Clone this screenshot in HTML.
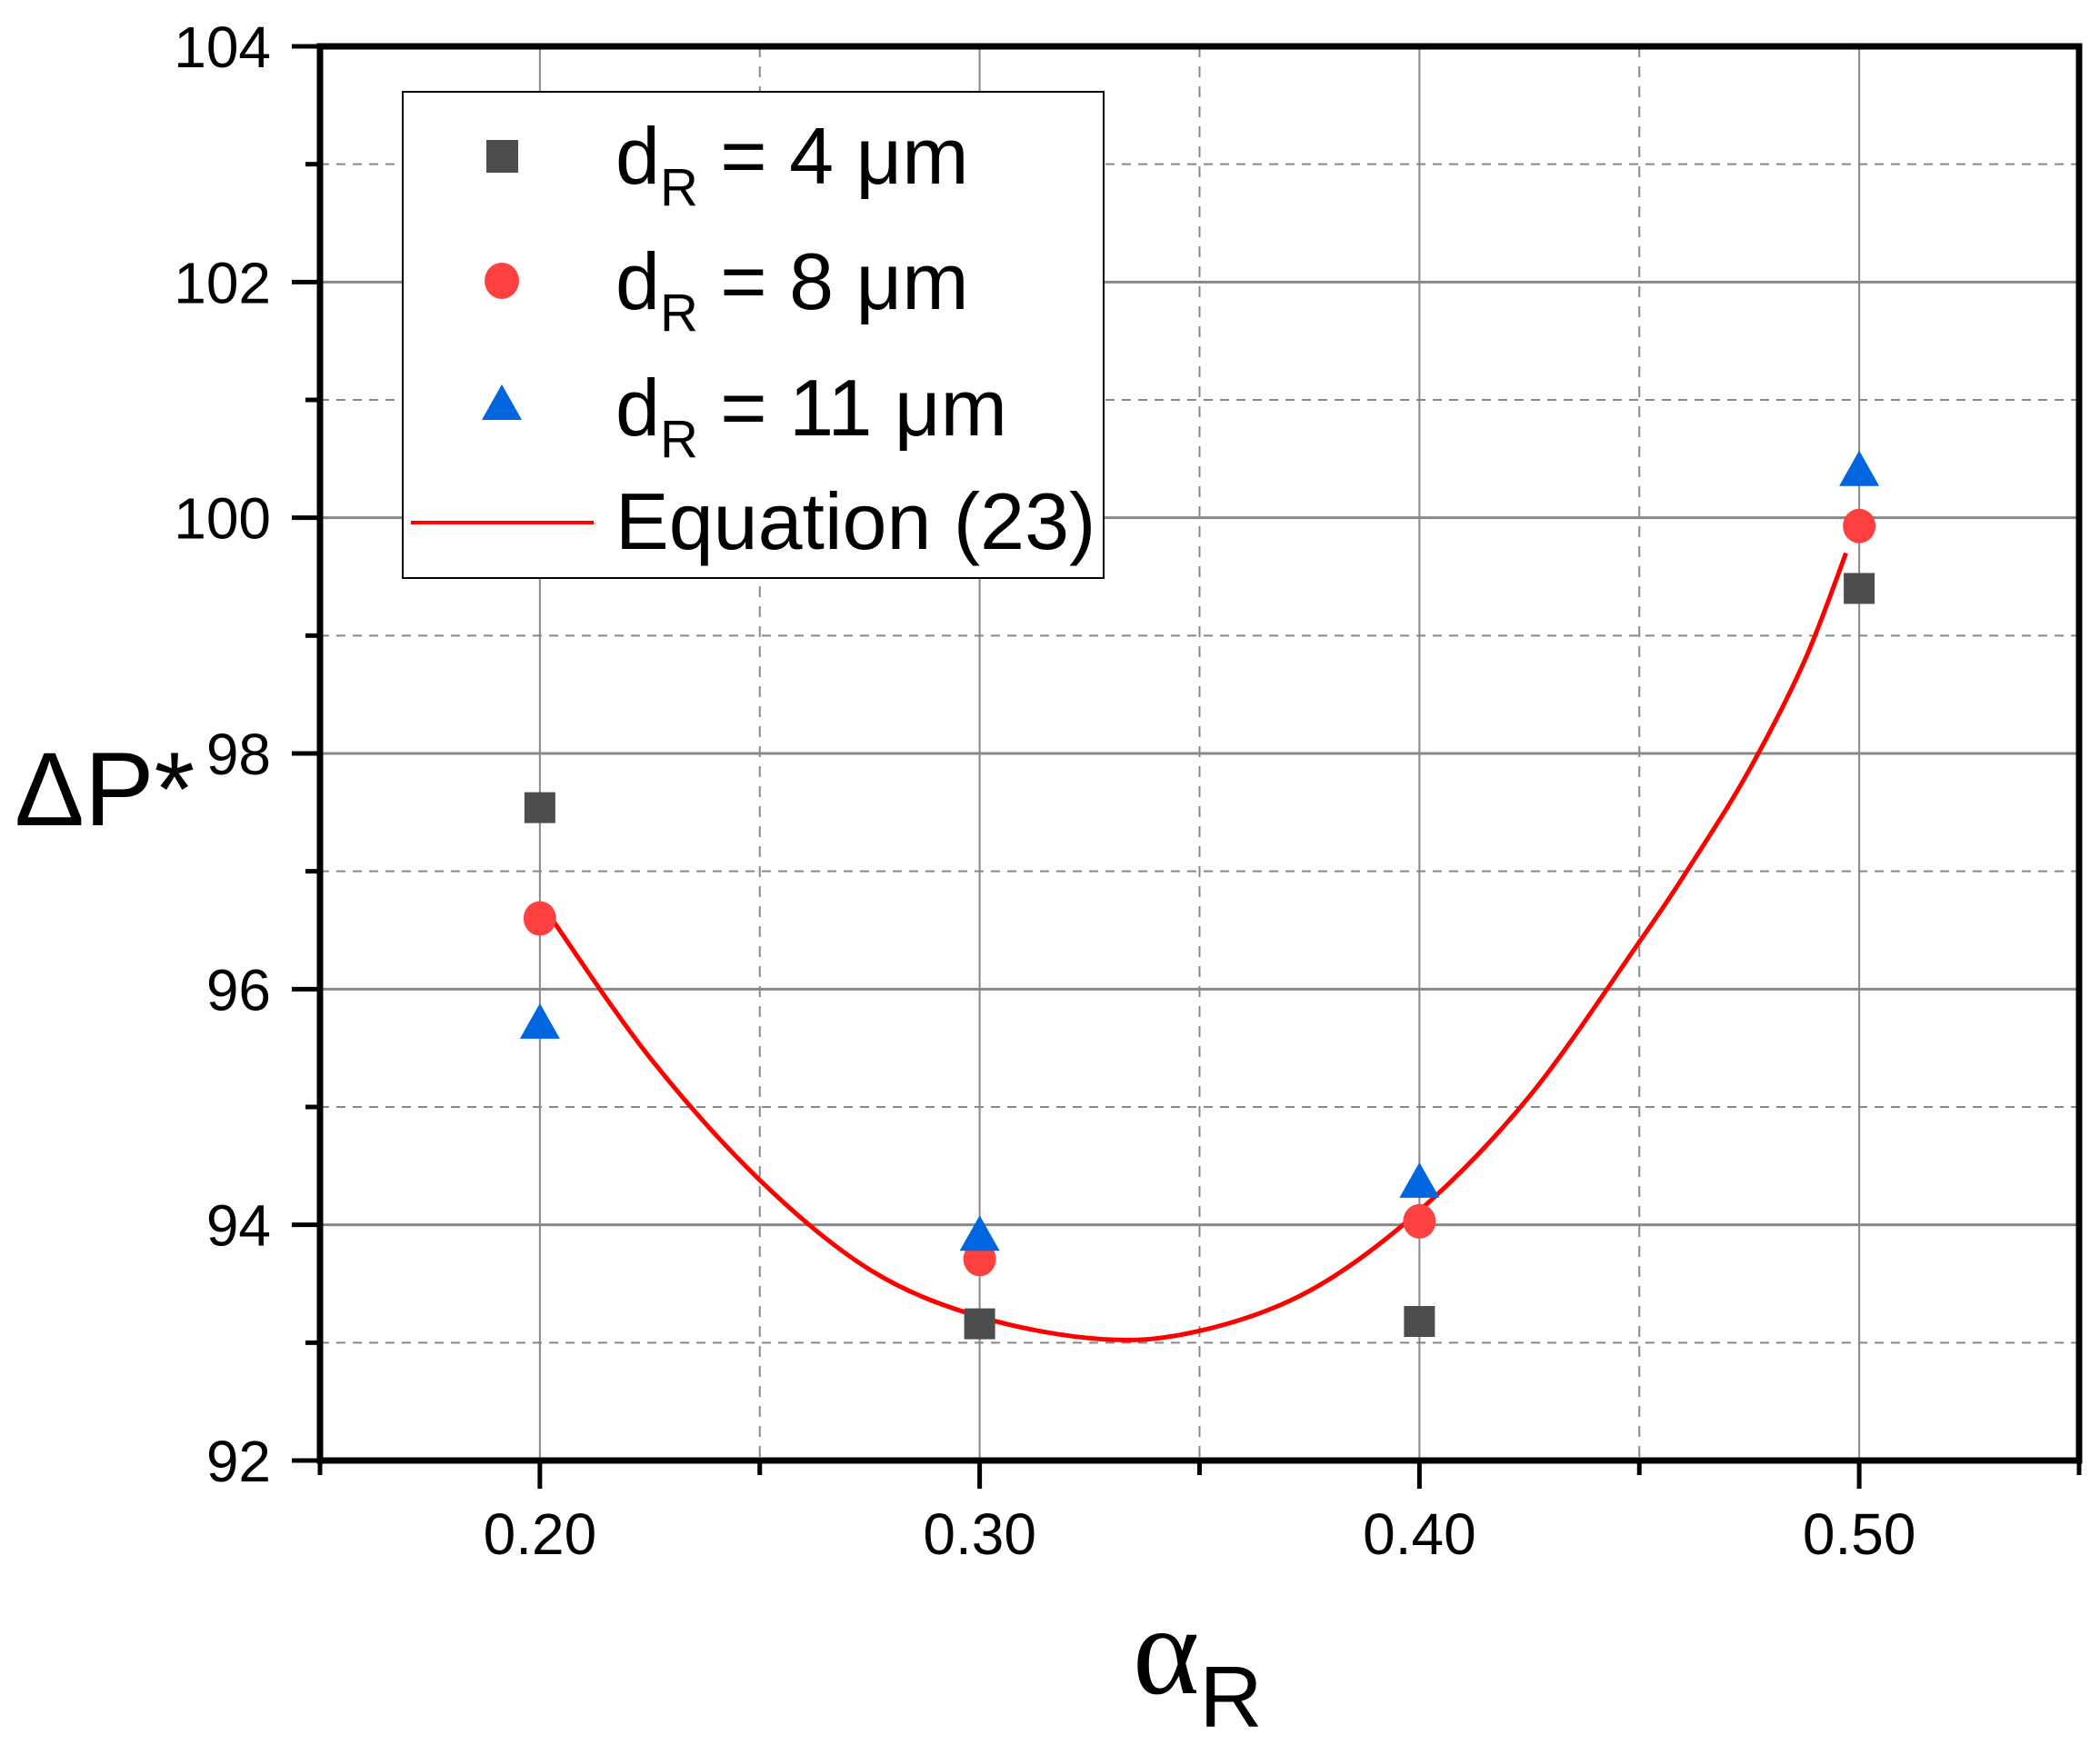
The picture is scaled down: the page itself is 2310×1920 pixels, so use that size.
<!DOCTYPE html>
<html><head><meta charset="utf-8"><style>
html,body{margin:0;padding:0;background:#fff;}
svg{display:block;font-family:"Liberation Sans",sans-serif;}
</style></head><body>
<svg id="chart" width="2310" height="1920" viewBox="0 0 2310 1920" xmlns="http://www.w3.org/2000/svg">
<g id="grid"></g>
<g id="curve"></g>
<g id="marks"></g>
<g id="axes"></g>
<text x="16" y="908" font-size="115">ΔP*</text>
<text x="1246" y="1863" font-size="140" font-family="Liberation Serif, serif">α<tspan font-family="Liberation Sans, sans-serif" font-size="96" dy="37">R</tspan></text>
<g>
<rect x="443" y="101" width="771" height="535" fill="#fff" stroke="#000" stroke-width="2"/>
<rect x="535" y="154" width="35" height="36" fill="#4d4d4d"/>
<text x="677" y="202" font-size="88">d<tspan font-size="58" dy="24">R</tspan><tspan dy="-24"> = 4 μm</tspan></text>
<ellipse cx="552" cy="309" rx="19" ry="20" fill="#ff4040"/>
<text x="677" y="340" font-size="88">d<tspan font-size="58" dy="24">R</tspan><tspan dy="-24"> = 8 μm</tspan></text>
<polygon points="552,423 574,462 530,462" fill="#0066e0"/>
<text x="677" y="479" font-size="88">d<tspan font-size="58" dy="24">R</tspan><tspan dy="-24"> = 11 μm</tspan></text>
<line x1="452" y1="575" x2="653" y2="575" stroke="#ff0000" stroke-width="4"/>
<text x="677" y="604" font-size="88">Equation (23)</text>
</g>
</svg>
<script>
const xTicks=[0.20,0.30,0.40,0.50];
const xTickLabels=["0.20","0.30","0.40","0.50"];
const yTicks=[92,94,96,98,100,102,104];
const xCats=[0.2,0.3,0.4,0.5];
const series4=[97.54,93.16,93.18,99.40];
const series8=[96.60,93.71,94.03,99.93];
const series11=[95.68,93.88,94.33,100.37];
const curveX=[0.203,0.225,0.25,0.275,0.30,0.3278,0.35,0.375,0.40,0.425,0.45,0.4625,0.475,0.4875,0.497];
const curveY=[96.58,95.42,94.38,93.62,93.22,93.03,93.10,93.44,94.12,95.09,96.40,97.10,97.86,98.78,99.70];

const X0=352,X1=2287,Y0=1607,Y1=51,xmin=0.15,xmax=0.55,ymin=92,ymax=104;
const sx=v=>X0+(v-xmin)/(xmax-xmin)*(X1-X0);
const sy=v=>Y0-(v-ymin)/(ymax-ymin)*(Y0-Y1);
const NS="http://www.w3.org/2000/svg";
function mk(tag,attrs,parent){const e=document.createElementNS(NS,tag);for(const k in attrs)e.setAttribute(k,attrs[k]);parent.appendChild(e);return e;}
const grid=document.getElementById('grid'),axes=document.getElementById('axes'),marks=document.getElementById('marks'),cg=document.getElementById('curve');
for(let v=ymin+1;v<ymax;v+=1){const y=sy(v);const major=(v%2===0);
 const l=mk('line',{x1:X0,x2:X1,y1:y,y2:y,stroke:'#888','stroke-width':major?3:2,'stroke-dasharray':major?'none':'10 8'},grid);
 
 }
for(let i=1;i<8;i++){const v=xmin+i*0.05;const x=sx(v);const major=(i%2===1);
 const l=mk('line',{x1:x,x2:x,y1:Y1,y2:Y0,stroke:'#888','stroke-width':2,'stroke-dasharray':major?'none':'12 10'},grid);
 
 }
const pts=curveX.map((v,i)=>[sx(v),sy(curveY[i])]);
let d='M'+pts[0][0]+','+pts[0][1];
for(let i=0;i<pts.length-1;i++){const p0=pts[Math.max(0,i-1)],p1=pts[i],p2=pts[i+1],p3=pts[Math.min(pts.length-1,i+2)];
 d+=' C'+(p1[0]+(p2[0]-p0[0])/6)+','+(p1[1]+(p2[1]-p0[1])/6)+' '+(p2[0]-(p3[0]-p1[0])/6)+','+(p2[1]-(p3[1]-p1[1])/6)+' '+p2[0]+','+p2[1];}
const cp=mk('path',{d:d,fill:'none',stroke:'#ff0000','stroke-width':5},cg);


xCats.forEach((v,i)=>{const x=sx(v);
 const s=mk('rect',{x:x-17,y:sy(series4[i])-17,width:34,height:34,fill:'#4d4d4d'},marks);
 
 
 const c=mk('ellipse',{cx:x,cy:sy(series8[i]),rx:18,ry:19,fill:'#ff4040'},marks);
 
 
 const y=sy(series11[i]);
 const t=mk('polygon',{points:(x)+','+(y-26)+' '+(x+22)+','+(y+13)+' '+(x-22)+','+(y+13),fill:'#0066e0'},marks);
 
 });
const fr=mk('path',{d:`M${X0},${Y1} H${X1} V${Y0} H${X0} Z`,fill:'none',stroke:'#000','stroke-width':7},axes);


for(let v=ymin;v<=ymax;v+=1){const y=sy(v);const major=(v%2===0);
 const l=mk('line',{x1:X0-(major?31:16),x2:X0,y1:y,y2:y,stroke:'#000','stroke-width':5},axes);
 
 }
yTicks.forEach(v=>{const t=mk('text',{x:298,y:sy(v)+23,'text-anchor':'end','font-size':64},axes);t.textContent=String(v);
 
 });
for(let i=0;i<=8;i++){const v=xmin+i*0.05;const x=sx(v);const major=(i%2===1);
 const l=mk('line',{x1:x,x2:x,y1:Y0,y2:Y0+(major?31:16),stroke:'#000','stroke-width':5},axes);
 
 }
xTicks.forEach((v,i)=>{const t=mk('text',{x:sx(v),y:1710,'text-anchor':'middle','font-size':64},axes);t.textContent=xTickLabels[i];
 
 });
</script>
</body></html>
